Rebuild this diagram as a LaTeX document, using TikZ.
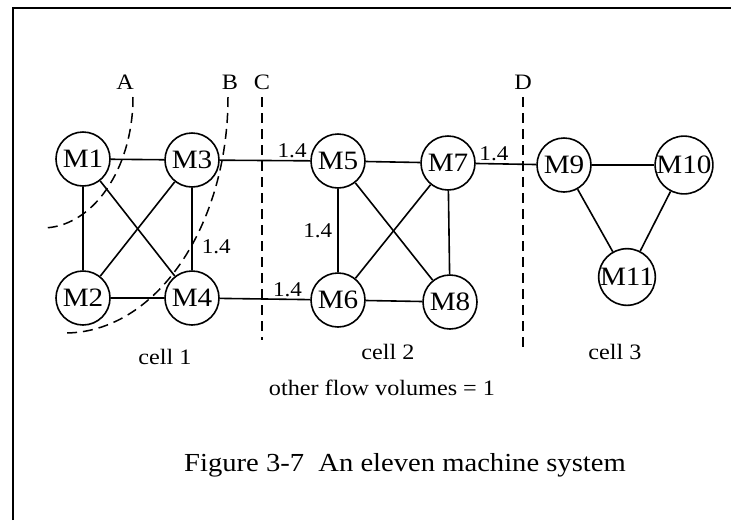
\documentclass[tikz,border=0pt]{standalone}
\usepackage{fontspec}
\setmainfont{Liberation Serif}[FakeStretch=1.1]
\usetikzlibrary{positioning, calc}
\tikzstyle{Cut} = [
%dashed cut line:
line width=1.5pt,
dash pattern=on 10pt off 6pt
]

\begin{document}
\begin{tikzpicture}[x=1pt, y=-1pt,
			machine/.style = {circle, draw, line width=1.6pt, minimum size=54pt, inner sep=0pt, font=\fontsize{26.5}{26.5}\selectfont},
			flow/.style = {line width=1.6pt},
			vol/.style = {inner sep=2pt, font=\fontsize{21}{21}\selectfont},
			cutname/.style = {font=\fontsize{22}{22}\selectfont},
			cellname/.style = {font=\fontsize{22}{22}\selectfont},
		]
		\useasboundingbox (0,0) rectangle (731,520);

		% frame
		\coordinate (FL) at (13,520);
		\coordinate (FT) at (13,8);
		\coordinate (FR) at (731,8);
		\draw[line width=2pt](FL)--(FT)--(FR);

		% machines
		\node[machine](M1) at (83,159){M1};
		\node[machine](M3) at (192,160){M3};
		\node[machine](M2) at (83,298){M2};
		\node[machine](M4) at (192,298){M4};
		\node[machine](M5) at (338,161){M5};
		\node[machine](M7) at (448,163){M7};
		\node[machine](M6) at (338,300){M6};
		\node[machine](M8) at (450,302){M8};
		\node[machine](M9) at (564,165){M9};
		\node[machine](M10) at (684,165){M10};
		\node[machine](M11) at (627,277){M11};

		% cell 1
		\draw[flow](M1)--(M3);
		\draw[flow](M1)--(M2);
		\draw[flow](M1)--(M4);
		\draw[flow](M3)--(M2);
		\draw[flow](M3)--node[pos=0.71, right=7pt, vol] {1.4}(M4);
		\draw[flow](M2)--(M4);

		% between cells
		\draw[flow](M3)--node[pos=0.8, above, vol] {1.4}(M5);
		\draw[flow](M4)--node[pos=0.75, above, vol] {1.4}(M6);
		\draw[flow](M7)--node[pos=0.3, above, vol] {1.4}(M9);

		% cell 2
		\draw[flow](M5)--(M7);
		\draw[flow](M5)--node[midway, left=3pt, vol] {1.4}(M6);
		\draw[flow](M5)--(M8);
		\draw[flow](M7)--(M6);
		\draw[flow](M7)--(M8);
		\draw[flow](M6)--(M8);

		% cell 3
		\draw[flow](M9)--(M10);
		\draw[flow](M9)--(M11);
		\draw[flow](M10)--(M11);

		% cuts
		\node[cutname](A) at (125,82){A};
		\node[cutname](B) at (230,82){B};
		\node[cutname](C) at (262,82){C};
		\node[cutname](D) at (523,82){D};
		\coordinate (Atop) at (133,97);
		\coordinate (Btop) at (228,97);
		\coordinate (Ctop) at (262,97);
		\coordinate (Cbot) at (262,340);
		\coordinate (Dtop) at (523,97);
		\coordinate (Dbot) at (523,352);
		\draw[Cut](Atop) arc[start angle=0, end angle=-90, x radius=91pt, y radius=131pt];
		\draw[Cut](Btop) arc[start angle=0, end angle=-90, x radius=163pt, y radius=236pt];
		\draw[Cut](Ctop)--(Cbot);
		\draw[Cut](Dtop)--(Dbot);

		% texts
		\node[cellname](cell1) at (165,357){cell 1};
		\node[cellname](cell2) at (388,352){cell 2};
		\node[cellname](cell3) at (615,352){cell 3};
		\node[cellname](other) at (382,388){other flow volumes = 1};
		\node[font=\fontsize{26}{26}\selectfont](caption) at (405,465){Figure 3-7\ \ An eleven machine system};

	\end{tikzpicture}
\end{document}
